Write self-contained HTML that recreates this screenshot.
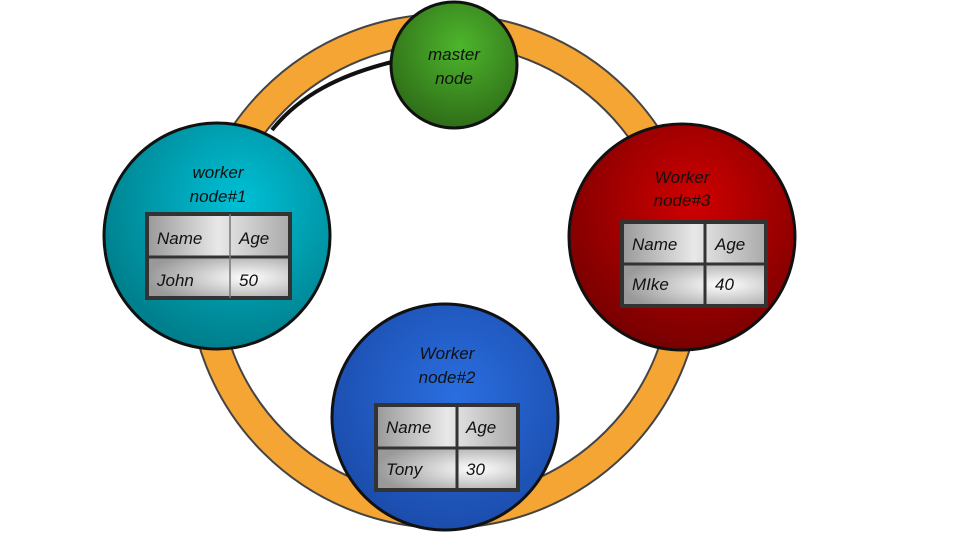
<!DOCTYPE html>
<html><head><meta charset="utf-8"><style>
body{margin:0;background:#fff;width:960px;height:540px;overflow:hidden}
svg text{font-family:"Liberation Sans",sans-serif;font-style:italic;font-size:17px;fill:#111}
</style></head><body>
<svg width="960" height="540" viewBox="0 0 960 540" xmlns="http://www.w3.org/2000/svg">
<defs>
<radialGradient id="g" cx="55%" cy="35%" r="65%"><stop offset="0" stop-color="#4db52c"/><stop offset="1" stop-color="#2f6e18"/></radialGradient>
<radialGradient id="t" cx="60%" cy="35%" r="65%"><stop offset="0" stop-color="#00c0d6"/><stop offset="1" stop-color="#007f8c"/></radialGradient>
<radialGradient id="r" cx="55%" cy="35%" r="65%"><stop offset="0" stop-color="#d00000"/><stop offset="1" stop-color="#780000"/></radialGradient>
<radialGradient id="b" cx="55%" cy="40%" r="65%"><stop offset="0" stop-color="#2a6ee0"/><stop offset="1" stop-color="#1a4aa8"/></radialGradient>
<linearGradient id="c" x1="0" y1="0" x2="1" y2="0"><stop offset="0" stop-color="#999"/><stop offset="0.5" stop-color="#e8e8e8"/><stop offset="1" stop-color="#aaa"/></linearGradient>
<radialGradient id="c2" cx="70%" cy="50%" r="70%"><stop offset="0" stop-color="#fff"/><stop offset="1" stop-color="#999"/></radialGradient>
</defs>
<circle cx="445" cy="271" r="242" fill="none" stroke="#444" stroke-width="32"/>
<circle cx="445" cy="271" r="242" fill="none" stroke="#f5a534" stroke-width="28"/>
<path d="M392 62 C340 75 300 95 272 130" fill="none" stroke="#111" stroke-width="4"/>
<circle cx="454" cy="65" r="63" fill="url(#g)" stroke="#111" stroke-width="3"/>
<text x="454" y="60" text-anchor="middle">master</text>
<text x="454" y="84" text-anchor="middle">node</text>

<circle cx="217" cy="236" r="113" fill="url(#t)" stroke="#111" stroke-width="3"/>
<text x="218" y="178" text-anchor="middle">worker</text>
<text x="218" y="202" text-anchor="middle">node#1</text>
<g transform="translate(147,214)">
<rect width="143" height="43" fill="url(#c)"/><rect y="43" width="143" height="41" fill="url(#c2)"/>
<rect width="143" height="84" fill="none" stroke="#333" stroke-width="4"/><line x1="0" y1="43" x2="143" y2="43" stroke="#333" stroke-width="3"/><line x1="83" y1="0" x2="83" y2="84" stroke="#777" stroke-width="1.5"/>
<text x="10" y="30">Name</text><text x="92" y="30">Age</text><text x="10" y="72">John</text><text x="92" y="72">50</text></g>

<circle cx="682" cy="237" r="113" fill="url(#r)" stroke="#111" stroke-width="3"/>
<text x="682" y="183" text-anchor="middle">Worker</text>
<text x="682" y="206" text-anchor="middle">node#3</text>
<g transform="translate(622,222)">
<rect width="144" height="42" fill="url(#c)"/><rect y="42" width="144" height="42" fill="url(#c2)"/>
<rect width="144" height="84" fill="none" stroke="#333" stroke-width="4"/><line x1="0" y1="42" x2="144" y2="42" stroke="#333" stroke-width="3"/><line x1="83" y1="0" x2="83" y2="84" stroke="#333" stroke-width="3"/>
<text x="10" y="28">Name</text><text x="93" y="28">Age</text><text x="10" y="68">MIke</text><text x="93" y="68">40</text></g>

<circle cx="445" cy="417" r="113" fill="url(#b)" stroke="#111" stroke-width="3"/>
<text x="447" y="359" text-anchor="middle">Worker</text>
<text x="447" y="383" text-anchor="middle">node#2</text>
<g transform="translate(376,405)">
<rect width="142" height="43" fill="url(#c)"/><rect y="43" width="142" height="42" fill="url(#c2)"/>
<rect width="142" height="85" fill="none" stroke="#333" stroke-width="4"/><line x1="0" y1="43" x2="142" y2="43" stroke="#333" stroke-width="3"/><line x1="81" y1="0" x2="81" y2="85" stroke="#333" stroke-width="3"/>
<text x="10" y="28">Name</text><text x="90" y="28">Age</text><text x="10" y="70">Tony</text><text x="90" y="70">30</text></g>
</svg>
</body></html>
